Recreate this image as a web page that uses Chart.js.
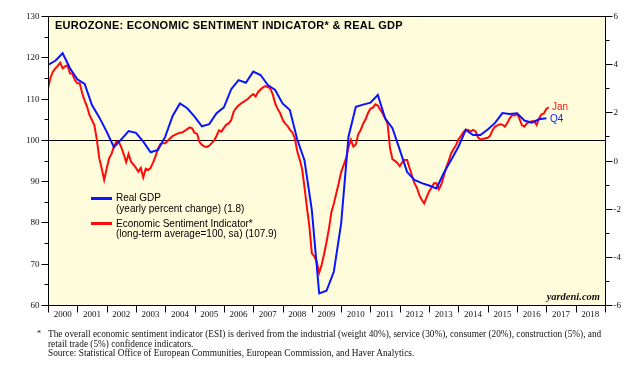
<!DOCTYPE html>
<html>
<head>
<meta charset="utf-8">
<script src="https://cdn.jsdelivr.net/npm/chart.js@4.4.0/dist/chart.umd.min.js"></script>
<style>
body{margin:0;background:#fff;width:643px;height:374px;overflow:hidden;position:relative}
canvas{position:absolute;left:0;top:0}
.t{position:absolute;white-space:nowrap;line-height:1}
.sans{font-family:"Liberation Sans",Arial,sans-serif}
.serif{font-family:"Liberation Serif","Times New Roman",serif;color:#111}
.sw{position:absolute;width:21px;height:3px}
</style>
</head>
<body>
<canvas id="chart" width="643" height="374"></canvas>

<div class="t sans" style="left:55px;top:19.5px;font-size:11px;font-weight:bold;letter-spacing:0.27px">EUROZONE: ECONOMIC SENTIMENT INDICATOR* &amp; REAL GDP</div>

<div class="sw" style="left:91px;top:197px;background:#0a14ff"></div>
<div class="t sans" style="left:116px;top:193px;font-size:10px">Real GDP</div>
<div class="t sans" style="left:116px;top:203.5px;font-size:10px">(yearly percent change) (1.8)</div>
<div class="sw" style="left:91px;top:222px;background:#ff0a0a"></div>
<div class="t sans" style="left:116px;top:218.5px;font-size:10px">Economic Sentiment Indicator*</div>
<div class="t sans" style="left:116px;top:229px;font-size:10px">(long-term average=100, sa) (107.9)</div>

<div class="t sans" style="left:552px;top:102px;font-size:10px;color:#ff1010">Jan</div>
<div class="t sans" style="left:550px;top:113.5px;font-size:10px;color:#1020ff">Q4</div>

<div class="t serif" style="right:43px;top:291.5px;font-size:10.5px;font-weight:bold;font-style:italic">yardeni.com</div>

<div class="t serif" style="left:37px;top:329.5px;font-size:8px">*</div>
<div class="t serif" style="left:48px;top:329.5px;font-size:9.3px">The overall economic sentiment indicator (ESI) is derived from the industrial (weight 40%), service (30%), consumer (20%), construction (5%), and</div>
<div class="t serif" style="left:48px;top:339.5px;font-size:9.3px">retail trade (5%) confidence indicators.</div>
<div class="t serif" style="left:48px;top:348.5px;font-size:9.3px">Source: Statistical Office of European Communities, European Commission, and Haver Analytics.</div>

<script>
// Real GDP, yearly % change, quarterly, first value = 1999 Q4 (plotted at quarter end)
const gdpStart = 2000;
const gdpValues = [
  3.97,
  4.14, 4.45, 3.83, 3.37,   // 2000
  3.18, 2.30, 1.79, 1.20,   // 2001
  0.55, 0.88, 1.22, 1.15,   // 2002
  0.78, 0.34, 0.44, 0.99,   // 2003
  1.85, 2.37, 2.17, 1.82,   // 2004
  1.42, 1.51, 1.96, 2.21,   // 2005
  2.96, 3.34, 3.23, 3.69,   // 2006
  3.55, 3.13, 2.93, 2.37,   // 2007
  2.10, 0.88, 0.00, -2.06,  // 2008
  -5.52, -5.41, -4.62, -2.61, // 2009
  0.99, 2.23, 2.32, 2.40,   // 2010
  2.72, 1.75, 1.34, 0.44,   // 2011
  -0.48, -0.81, -0.94, -1.04, // 2012
  -1.16, -0.52, 0.02, 0.57, // 2013
  1.27, 1.06, 1.06, 1.29,   // 2014
  1.56, 1.97, 1.93, 1.96,   // 2015
  1.66, 1.57, 1.71, 1.75    // 2016
];

// Economic Sentiment Indicator, monthly, first value = Dec 1999 (plotted at month end)
const esiStart = 2000;
const esiValues = [
  112.5,
  115.0, 116.5, 117.3, 117.9, 118.7, 117.3, 117.8, 118.1, 116.1, 116.0, 114.5, 113.7, // 2000
  113.7, 111.3, 109.5, 108.0, 106.0, 104.8, 103.5, 100.0, 95.5, 93.0, 90.3, 93.0,     // 2001
  95.5, 96.6, 98.4, 99.6, 99.5, 98.2, 96.5, 94.6, 96.6, 94.7, 94.0, 93.2,             // 2002
  92.3, 93.2, 90.9, 93.0, 92.7, 93.2, 94.5, 96.0, 97.8, 99.0, 99.2, 99.2,             // 2003
  99.8, 100.4, 100.9, 101.2, 101.5, 101.7, 101.8, 102.2, 102.6, 103.0, 102.8, 101.7,  // 2004
  101.5, 99.5, 98.8, 98.4, 98.3, 98.6, 99.2, 99.8, 101.0, 102.3, 102.0, 102.9,        // 2005
  103.7, 104.0, 104.8, 106.8, 107.7, 108.3, 108.8, 109.2, 109.6, 110.0, 110.6, 111.1, // 2006
  110.5, 111.6, 112.2, 112.7, 113.0, 112.8, 112.4, 111.0, 108.8, 107.5, 106.5, 105.0, // 2007
  104.0, 103.4, 102.5, 101.8, 100.5, 97.3, 95.3, 93.0, 88.5, 83.5, 79.0, 72.5,        // 2008
  71.8, 70.5, 67.8, 69.7, 72.3, 75.2, 78.5, 82.5, 84.5, 87.0, 89.5, 92.2,             // 2009
  93.8, 95.5, 98.2, 100.0, 98.4, 98.9, 101.4, 102.4, 103.9, 105.0, 106.5, 107.6,      // 2010
  107.8, 108.6, 108.3, 107.3, 106.4, 105.2, 103.9, 98.0, 95.3, 94.9, 94.4, 93.6,      // 2011
  94.6, 95.1, 95.1, 93.2, 91.3, 89.5, 88.4, 86.6, 85.5, 84.6, 86.1, 87.5,             // 2012
  88.4, 89.5, 89.5, 88.0, 89.2, 91.2, 93.3, 94.9, 96.7, 97.8, 98.7, 100.1,            // 2013
  100.9, 101.8, 102.5, 102.4, 102.0, 102.4, 102.1, 100.6, 100.1, 100.2, 100.4, 100.5, // 2014
  101.0, 102.4, 103.2, 103.5, 103.8, 103.7, 103.2, 104.1, 105.2, 106.0, 105.9, 106.3, // 2015
  105.1, 103.6, 103.2, 104.0, 104.3, 104.5, 104.5, 103.6, 105.2, 106.2, 106.4, 107.5, // 2016
  107.9                                                                               // Jan 2017
];

const yearLabels = ["2000","2001","2002","2003","2004","2005","2006","2007","2008","2009",
                    "2010","2011","2012","2013","2014","2015","2016","2017","2018"];

const gdpPoints = gdpValues.map((v,i) => ({x: gdpStart + i/4, y: v}));
const esiPoints = esiValues.map((v,i) => ({x: esiStart + i/12, y: v}));

const tickFont = '9px "Liberation Serif", "Times New Roman", serif';

const frame = {
  id: 'frame',
  beforeDraw(chart){
    const {ctx, chartArea: a} = chart;
    ctx.save();
    ctx.fillStyle = '#fffcdc';
    ctx.fillRect(a.left, a.top, a.right - a.left, a.bottom - a.top);
    ctx.restore();
  },
  beforeDatasetsDraw(chart){
    const {ctx, chartArea: a, scales} = chart;
    const y100 = Math.round(scales.y.getPixelForValue(100)) + 0.5;
    ctx.save();
    ctx.strokeStyle = '#000';
    ctx.lineWidth = 1.2;
    ctx.beginPath();
    ctx.moveTo(a.left, y100);
    ctx.lineTo(a.right, y100);
    ctx.stroke();
    ctx.restore();
  },
  afterDraw(chart){
    const {ctx, chartArea: a, scales} = chart;
    const L = a.left + 0.5, R = a.right + 0.5, T = a.top + 0.5, B = a.bottom + 0.5;
    ctx.save();
    ctx.strokeStyle = '#000';
    ctx.lineWidth = 1;
    ctx.beginPath();
    ctx.moveTo(L, T); ctx.lineTo(R, T);
    ctx.moveTo(L, T); ctx.lineTo(L, B);
    ctx.moveTo(R, T); ctx.lineTo(R, B);
    ctx.moveTo(L, B); ctx.lineTo(R, B);
    ctx.stroke();

    ctx.font = tickFont;
    ctx.fillStyle = '#111';
    ctx.textBaseline = 'middle';

    // left axis (ESI)
    ctx.textAlign = 'right';
    for (let v = 60; v <= 130; v += 5){
      const y = Math.round(scales.y.getPixelForValue(v)) + 0.5;
      const len = v % 10 === 0 ? 7 : 4;
      ctx.beginPath(); ctx.moveTo(L - len, y); ctx.lineTo(L, y); ctx.stroke();
      if (v % 10 === 0) ctx.fillText(String(v), L - 9, y);
    }
    // right axis (GDP)
    ctx.textAlign = 'left';
    for (let v = -6; v <= 6; v += 1){
      const y = Math.round(scales.y2.getPixelForValue(v)) + 0.5;
      const len = v % 2 === 0 ? 7 : 4;
      ctx.beginPath(); ctx.moveTo(R, y); ctx.lineTo(R + len, y); ctx.stroke();
      if (v % 2 === 0) ctx.fillText(String(v), R + 8, y);
    }
    // bottom axis: year ticks and centred labels
    ctx.textAlign = 'center';
    for (let i = 0; i <= yearLabels.length; i++){
      const x = Math.round(scales.x.getPixelForValue(2000 + i)) + 0.5;
      ctx.beginPath(); ctx.moveTo(x, B); ctx.lineTo(x, B + 7); ctx.stroke();
      if (i < yearLabels.length){
        ctx.fillText(yearLabels[i], scales.x.getPixelForValue(2000 + i + 0.5), B + 9);
      }
    }
    ctx.restore();
  }
};

new Chart(document.getElementById('chart').getContext('2d'), {
  type: 'line',
  data: {
    datasets: [
      {
        label: 'Real GDP',
        data: gdpPoints,
        yAxisID: 'y2',
        borderColor: '#0a14ff',
        borderWidth: 2,
        pointRadius: 0,
        tension: 0
      },
      {
        label: 'Economic Sentiment Indicator',
        data: esiPoints,
        yAxisID: 'y',
        borderColor: '#ff0a0a',
        borderWidth: 2,
        pointRadius: 0,
        tension: 0
      }
    ]
  },
  options: {
    responsive: false,
    animation: false,
    devicePixelRatio: 1,
    layout: {padding: {left: 48, right: 38, top: 16, bottom: 69}},
    plugins: {legend: {display: false}, tooltip: {enabled: false}},
    scales: {
      x: {type: 'linear', min: 2000, max: 2019, display: false},
      y: {min: 60, max: 130, display: false},
      y2: {min: -6, max: 6, display: false, position: 'right'}
    }
  },
  plugins: [frame]
});
</script>
</body>
</html>
